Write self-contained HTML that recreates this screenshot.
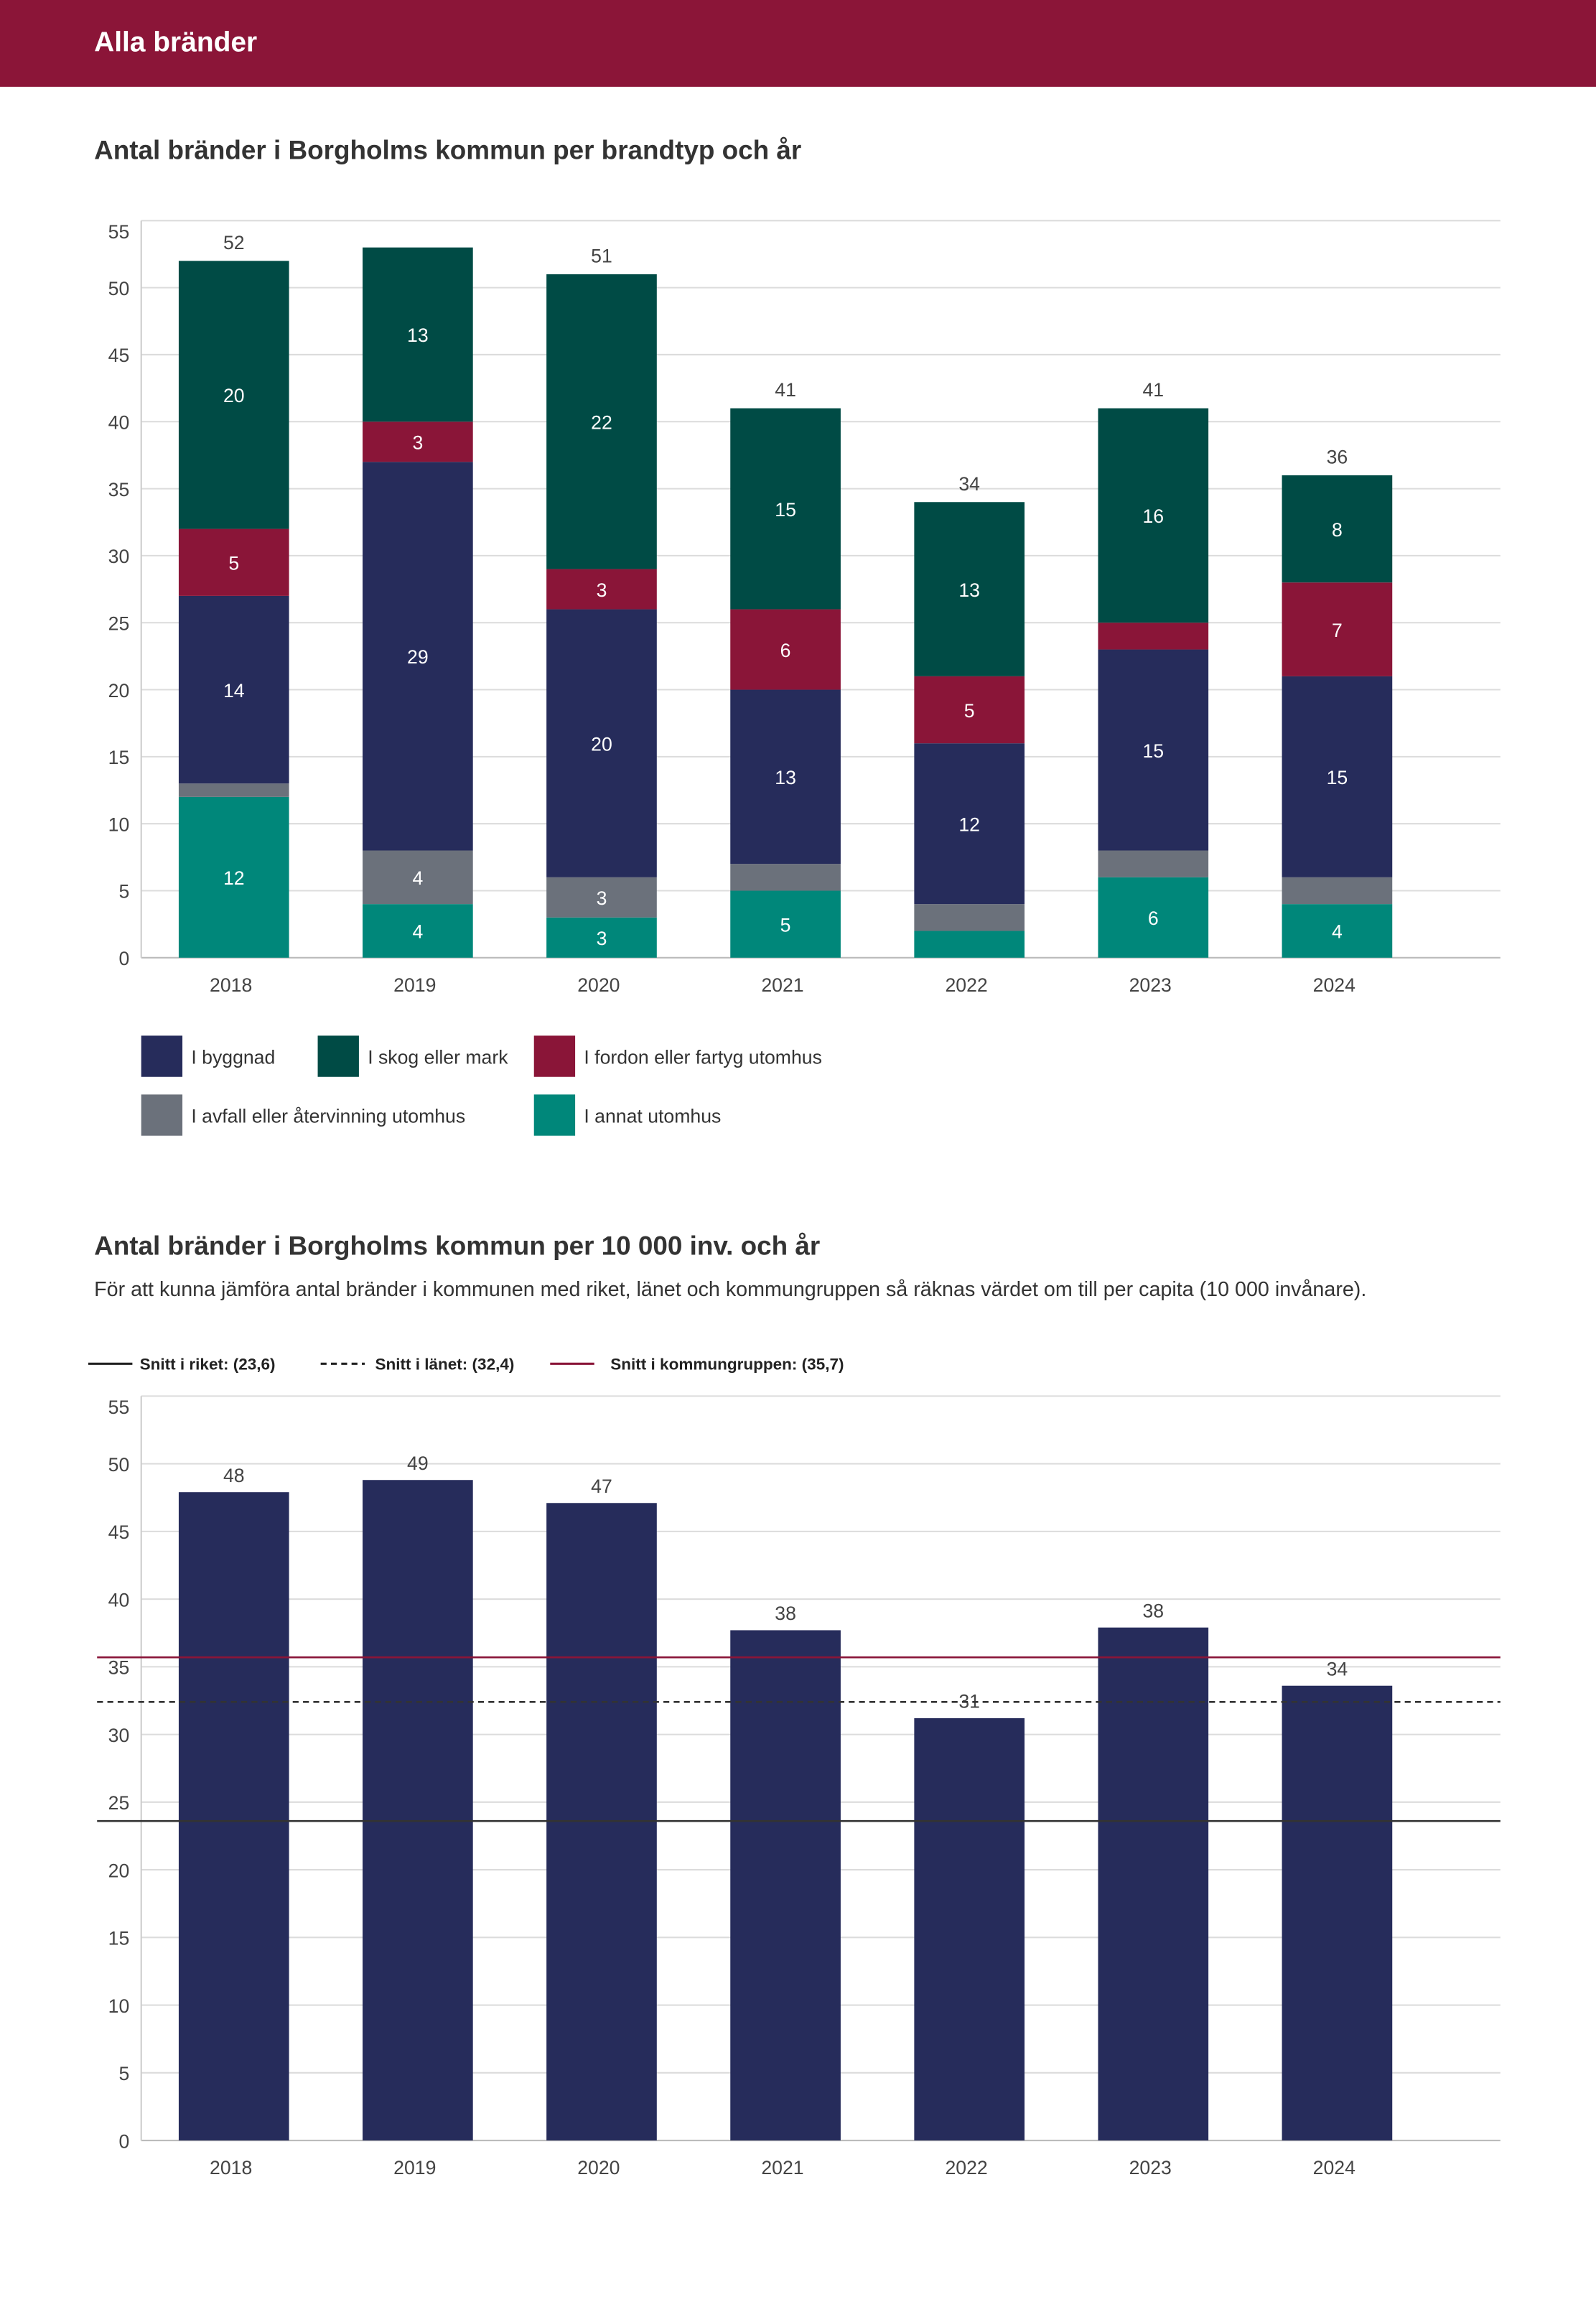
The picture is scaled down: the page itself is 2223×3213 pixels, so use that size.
<!DOCTYPE html>
<html><head><meta charset="utf-8"><style>
html,body{margin:0;padding:0;background:#fff}
svg{display:block}
text{font-family:"Liberation Sans",sans-serif}
</style></head><body>
<svg id="s" width="2223" height="3213" viewBox="0 0 1085 1568.2" xmlns="http://www.w3.org/2000/svg">
<rect x="0" y="0" width="1085" height="59" fill="#8b1538"/>
<text x="64" y="35" fill="#fff" font-size="19" font-weight="bold">Alla bränder</text>
<text x="64" y="108" fill="#333" font-size="18" font-weight="bold">Antal bränder i Borgholms kommun per brandtyp och år</text>
<g id="c1"></g>
<g id="leg1"></g>
<text x="64" y="853" fill="#333" font-size="18" font-weight="bold">Antal bränder i Borgholms kommun per 10 000 inv. och år</text>
<text x="64" y="881" fill="#333" font-size="14">För att kunna jämföra antal bränder i kommunen med riket, länet och kommungruppen så räknas värdet om till per capita (10 000 invånare).</text>
<g id="leg2"></g>
<g id="c2"></g>
</svg>
<script>
const years=["2018","2019","2020","2021","2022","2023","2024"];
const annat=[12,4,3,5,2,6,4];
const avfall=[1,4,3,2,2,2,2];
const byggnad=[14,29,20,13,12,15,15];
const fordon=[5,3,3,6,5,2,7];
const skog=[20,13,22,15,13,16,8];
const yTicks=[0,5,10,15,20,25,30,35,40,45,50,55];
const perCapita=[47.9,48.8,47.1,37.7,31.2,37.9,33.6];
const perCapitaLabels=["48","49","47","38","31","38","34"];
const refRiket=23.6, refLanet=32.4, refGrupp=35.7;

const NS="http://www.w3.org/2000/svg";
function mk(tag,attrs,parent,txt){const e=document.createElementNS(NS,tag);for(const k in attrs)e.setAttribute(k,attrs[k]);if(txt!==undefined)e.textContent=txt;parent.appendChild(e);return e;}

function axis(g,y0,y55,xL,xR){
  const sy=v=>y0-(y0-y55)*v/55;
  yTicks.forEach(t=>{
    const l=mk('line',{x1:xL,x2:xR,y1:sy(t),y2:sy(t),stroke:t===0?'#bbb':'#dcdcdc','stroke-width':1},g);
    
    
    const tx=mk('text',{x:88,y:sy(t)+5+(t===55?7:0),'text-anchor':'end','font-size':13,fill:'#444'},g,String(t));
    
    
  });
  const ax=mk('line',{x1:xL,x2:xL,y1:y55,y2:y0,stroke:'#ccc'},g);
  
  
  return sy;
}
const cx=i=>159+125*i, bw=75;

// Chart 1
(function(){
  const g=document.getElementById('c1');
  const sy=axis(g,651,150,96,1020);
  const series=[["annat",annat,"#00877a"],["avfall",avfall,"#6b717b"],["byggnad",byggnad,"#262c5b"],["fordon",fordon,"#8a1538"],["skog",skog,"#004b45"]];
  years.forEach((yr,i)=>{
    let cum=0;
    series.forEach(([nm,arr,col])=>{
      const v=arr[i];
      const r=mk('rect',{x:cx(i)-bw/2,y:sy(cum+v),width:bw,height:sy(cum)-sy(cum+v),fill:col},g);
      
      
      if(v>=3){
        const t=mk('text',{x:cx(i),y:(sy(cum)+sy(cum+v))/2+5,'text-anchor':'middle','font-size':13,fill:'#fff'},g,String(v));
        
        
      }
      cum+=v;
    });
    if(sy(cum)-20>150){
      const t=mk('text',{x:cx(i),y:sy(cum)-8,'text-anchor':'middle','font-size':13,fill:'#444'},g,String(cum));
      
      
    }
    const xl=mk('text',{x:cx(i)-2,y:674,'text-anchor':'middle','font-size':13,fill:'#444'},g,yr);
    
    
  });
  const lg=document.getElementById('leg1');
  const items=[["I byggnad","#262c5b",96,704],["I skog eller mark","#004b45",216,704],["I fordon eller fartyg utomhus","#8a1538",363,704],["I avfall eller återvinning utomhus","#6b717b",96,744],["I annat utomhus","#00877a",363,744]];
  items.forEach(([lab,col,x,y])=>{
    const r=mk('rect',{x:x,y:y,width:28,height:28,fill:col},lg);
    
    
    const t=mk('text',{x:x+34,y:y+19,'font-size':13,fill:'#333'},lg,lab);
    
    
  });
})();

// Chart 2
(function(){
  const lg=document.getElementById('leg2');
  const L=[["Snitt i riket: (23,6)","#222","",60,95],["Snitt i länet: (32,4)","#222","4 3",218,255],["Snitt i kommungruppen: (35,7)","#8a1538","",374,415]];
  L.forEach(([lab,col,da,x,tx])=>{
    const l=mk('line',{x1:x,x2:x+30,y1:927,y2:927,stroke:col,'stroke-width':1.5},lg);
    if(da)l.setAttribute('stroke-dasharray',da);
    
    
    const t=mk('text',{x:tx,y:931,'font-size':11,'font-weight':'bold',fill:'#222'},lg,lab);
    
    
  });
  const g=document.getElementById('c2');
  const sy=axis(g,1455,949,96,1020);
  years.forEach((yr,i)=>{
    const r=mk('rect',{x:cx(i)-bw/2,y:sy(perCapita[i]),width:bw,height:sy(0)-sy(perCapita[i]),fill:'#262c5b'},g);
    
    
    const t=mk('text',{x:cx(i),y:sy(perCapita[i])-7,'text-anchor':'middle','font-size':13,fill:'#444'},g,perCapitaLabels[i]);
    
    
    const xl=mk('text',{x:cx(i)-2,y:1478,'text-anchor':'middle','font-size':13,fill:'#444'},g,yr);
    
    
  });
  const refs=[[refRiket,"#333","","ref-line-riket"],[refLanet,"#333","4 3","ref-line-lanet"],[refGrupp,"#8a1538","","ref-line-kommungrupp"]];
  refs.forEach(([v,col,da,nm])=>{
    const l=mk('line',{x1:66,x2:1020,y1:sy(v),y2:sy(v),stroke:col,'stroke-width':1.3},g);
    if(da)l.setAttribute('stroke-dasharray',da);
    
    
  });
})();
</script>
</body></html>
